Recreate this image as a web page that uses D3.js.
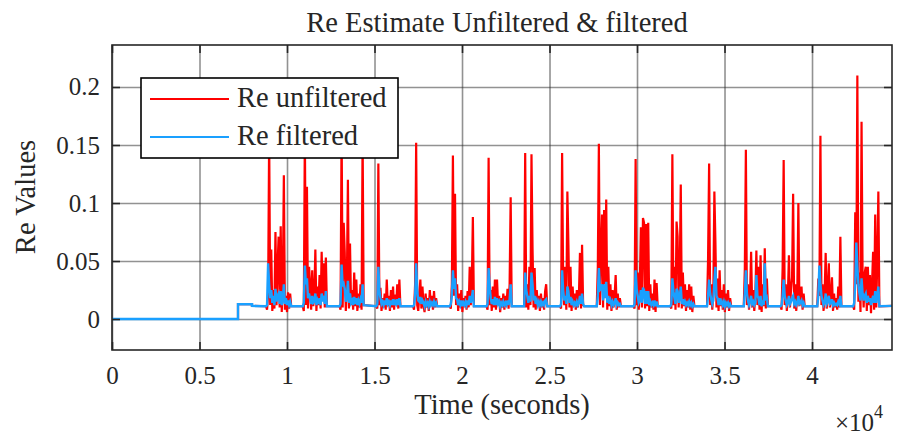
<!DOCTYPE html>
<html>
<head>
<meta charset="utf-8">
<script src="https://cdn.jsdelivr.net/npm/d3@7"></script>
<style>
  body { margin: 0; background: #fff; }
  svg { display: block; }
  text { font-family: "Liberation Serif", "Times New Roman", serif; fill: #262626; }
</style>
</head>
<body>
<svg id="chart" width="897" height="437"></svg>
<script>
// --- data (seconds / Re values) ---
const stepTimes  = [0, 7200, 7200, 8000, 8000];
const stepValues = [0, 0, 0.0128, 0.0128, 0.0113];
const endTime = 44570, endValue = 0.0113;
const sampleStep = 60;

const burstStart = [8800, 10900, 13000, 15100, 17200, 19300, 21400, 23550, 25600,
                    27700, 29800, 31900, 34000, 36100, 38200, 40300, 42350];

const redBursts = [
  [0.011, 0.008, 0.02, 0.158, 0.012, 0.06, 0.007, 0.025, 0.009, 0.075, 0.012, 0.045, 0.071, 0.01, 0.08, 0.006, 0.03, 0.124, 0.008, 0.02, 0.006, 0.023, 0.009, 0.022, 0.011],
  [0.011, 0.007, 0.16, 0.012, 0.114, 0.009, 0.045, 0.03, 0.008, 0.042, 0.011, 0.02, 0.06, 0.007, 0.028, 0.012, 0.038, 0.009, 0.058, 0.02, 0.048, 0.01, 0.053, 0.011],
  [0.011, 0.008, 0.165, 0.01, 0.083, 0.057, 0.007, 0.03, 0.12, 0.009, 0.065, 0.012, 0.025, 0.008, 0.04, 0.011, 0.034, 0.007, 0.022, 0.01, 0.03, 0.008, 0.158, 0.012],
  [0.011, 0.009, 0.134, 0.012, 0.027, 0.007, 0.018, 0.01, 0.022, 0.008, 0.034, 0.011, 0.02, 0.007, 0.025, 0.01, 0.028, 0.008, 0.021, 0.012, 0.03, 0.009, 0.034, 0.011],
  [0.011, 0.008, 0.03, 0.152, 0.012, 0.007, 0.02, 0.034, 0.009, 0.028, 0.012, 0.006, 0.022, 0.01, 0.018, 0.007, 0.025, 0.011, 0.02, 0.008, 0.024, 0.01, 0.018, 0.011],
  [0.011, 0.009, 0.03, 0.141, 0.02, 0.108, 0.012, 0.03, 0.007, 0.022, 0.01, 0.025, 0.006, 0.018, 0.011, 0.02, 0.008, 0.024, 0.01, 0.045, 0.012, 0.03, 0.088, 0.011],
  [0.011, 0.008, 0.139, 0.012, 0.025, 0.007, 0.028, 0.01, 0.034, 0.008, 0.034, 0.012, 0.02, 0.006, 0.018, 0.01, 0.022, 0.008, 0.02, 0.011, 0.026, 0.009, 0.03, 0.105, 0.011],
  [0.011, 0.143, 0.01, 0.03, 0.008, 0.045, 0.012, 0.142, 0.061, 0.01, 0.044, 0.008, 0.025, 0.011, 0.02, 0.007, 0.022, 0.01, 0.018, 0.008, 0.024, 0.03, 0.011],
  [0.011, 0.009, 0.143, 0.03, 0.012, 0.045, 0.008, 0.11, 0.064, 0.01, 0.045, 0.007, 0.028, 0.011, 0.022, 0.008, 0.025, 0.01, 0.02, 0.057, 0.009, 0.064, 0.012, 0.011],
  [0.011, 0.045, 0.151, 0.012, 0.058, 0.09, 0.01, 0.094, 0.03, 0.103, 0.008, 0.045, 0.011, 0.03, 0.007, 0.025, 0.01, 0.02, 0.038, 0.008, 0.022, 0.01, 0.018, 0.011],
  [0.011, 0.009, 0.138, 0.012, 0.04, 0.008, 0.03, 0.079, 0.01, 0.087, 0.083, 0.009, 0.082, 0.011, 0.083, 0.007, 0.03, 0.01, 0.022, 0.008, 0.034, 0.006, 0.031, 0.011],
  [0.011, 0.009, 0.142, 0.012, 0.045, 0.008, 0.084, 0.071, 0.01, 0.035, 0.116, 0.009, 0.04, 0.011, 0.03, 0.007, 0.025, 0.01, 0.03, 0.008, 0.028, 0.006, 0.02, 0.011],
  [0.011, 0.052, 0.134, 0.012, 0.03, 0.008, 0.022, 0.11, 0.066, 0.01, 0.035, 0.007, 0.042, 0.011, 0.025, 0.008, 0.03, 0.006, 0.022, 0.01, 0.025, 0.007, 0.018, 0.011],
  [0.011, 0.043, 0.146, 0.012, 0.03, 0.008, 0.022, 0.058, 0.01, 0.025, 0.007, 0.02, 0.059, 0.012, 0.045, 0.008, 0.055, 0.006, 0.03, 0.011, 0.061, 0.009, 0.035, 0.011],
  [0.011, 0.008, 0.044, 0.137, 0.012, 0.03, 0.007, 0.02, 0.055, 0.01, 0.025, 0.036, 0.108, 0.009, 0.03, 0.007, 0.025, 0.1, 0.011, 0.02, 0.028, 0.008, 0.022, 0.011],
  [0.011, 0.035, 0.02, 0.158, 0.012, 0.03, 0.007, 0.022, 0.057, 0.009, 0.025, 0.048, 0.01, 0.02, 0.036, 0.007, 0.022, 0.01, 0.018, 0.008, 0.028, 0.01, 0.071, 0.011],
  [0.011, 0.008, 0.092, 0.03, 0.21, 0.015, 0.04, 0.006, 0.17, 0.035, 0.01, 0.04, 0.045, 0.007, 0.045, 0.012, 0.038, 0.005, 0.03, 0.058, 0.008, 0.09, 0.01, 0.051, 0.11, 0.011]
];

const blueBursts = [
  [0.011, 0.012, 0.048, 0.03, 0.018, 0.025, 0.014, 0.02, 0.012, 0.026, 0.015, 0.02, 0.022, 0.013, 0.024, 0.012, 0.017, 0.03, 0.013, 0.018, 0.012, 0.016, 0.012, 0.015, 0.011],
  [0.011, 0.014, 0.046, 0.03, 0.035, 0.018, 0.022, 0.017, 0.013, 0.02, 0.014, 0.015, 0.022, 0.012, 0.016, 0.013, 0.018, 0.012, 0.022, 0.015, 0.02, 0.013, 0.024, 0.011],
  [0.011, 0.013, 0.047, 0.028, 0.03, 0.026, 0.015, 0.018, 0.033, 0.014, 0.022, 0.014, 0.016, 0.012, 0.019, 0.013, 0.018, 0.012, 0.016, 0.013, 0.017, 0.014, 0.03, 0.012],
  [0.011, 0.013, 0.045, 0.024, 0.018, 0.013, 0.015, 0.012, 0.016, 0.012, 0.018, 0.013, 0.015, 0.012, 0.016, 0.012, 0.017, 0.012, 0.015, 0.013, 0.017, 0.012, 0.018, 0.011],
  [0.011, 0.012, 0.02, 0.048, 0.025, 0.016, 0.015, 0.019, 0.013, 0.016, 0.014, 0.011, 0.015, 0.012, 0.014, 0.011, 0.015, 0.012, 0.014, 0.012, 0.015, 0.012, 0.014, 0.011],
  [0.011, 0.013, 0.02, 0.042, 0.026, 0.035, 0.018, 0.017, 0.012, 0.015, 0.012, 0.016, 0.011, 0.014, 0.012, 0.015, 0.012, 0.016, 0.012, 0.02, 0.014, 0.018, 0.025, 0.011],
  [0.011, 0.013, 0.044, 0.028, 0.018, 0.013, 0.017, 0.012, 0.019, 0.012, 0.018, 0.013, 0.015, 0.011, 0.014, 0.012, 0.015, 0.012, 0.014, 0.012, 0.016, 0.012, 0.017, 0.03, 0.011],
  [0.011, 0.04, 0.025, 0.02, 0.014, 0.02, 0.015, 0.04, 0.03, 0.016, 0.02, 0.013, 0.016, 0.012, 0.015, 0.012, 0.015, 0.012, 0.014, 0.012, 0.016, 0.017, 0.011],
  [0.011, 0.013, 0.042, 0.025, 0.016, 0.02, 0.013, 0.028, 0.024, 0.014, 0.019, 0.012, 0.015, 0.012, 0.014, 0.012, 0.015, 0.012, 0.014, 0.02, 0.013, 0.022, 0.013, 0.011],
  [0.011, 0.02, 0.044, 0.025, 0.026, 0.03, 0.016, 0.03, 0.018, 0.032, 0.014, 0.02, 0.013, 0.016, 0.012, 0.015, 0.012, 0.014, 0.018, 0.012, 0.014, 0.012, 0.013, 0.011],
  [0.011, 0.013, 0.042, 0.026, 0.02, 0.014, 0.016, 0.025, 0.014, 0.027, 0.025, 0.013, 0.024, 0.013, 0.024, 0.012, 0.015, 0.012, 0.014, 0.012, 0.016, 0.011, 0.015, 0.011],
  [0.011, 0.013, 0.035, 0.024, 0.018, 0.013, 0.026, 0.024, 0.014, 0.018, 0.028, 0.013, 0.017, 0.012, 0.015, 0.012, 0.014, 0.012, 0.015, 0.012, 0.014, 0.011, 0.013, 0.011],
  [0.011, 0.02, 0.034, 0.022, 0.017, 0.013, 0.016, 0.032, 0.045, 0.02, 0.018, 0.012, 0.018, 0.012, 0.015, 0.012, 0.015, 0.011, 0.014, 0.012, 0.014, 0.011, 0.013, 0.011],
  [0.011, 0.022, 0.042, 0.022, 0.016, 0.012, 0.015, 0.02, 0.013, 0.015, 0.012, 0.014, 0.038, 0.02, 0.018, 0.012, 0.02, 0.011, 0.016, 0.012, 0.048, 0.016, 0.018, 0.011],
  [0.011, 0.012, 0.02, 0.034, 0.02, 0.016, 0.012, 0.014, 0.02, 0.013, 0.015, 0.018, 0.02, 0.013, 0.015, 0.012, 0.014, 0.02, 0.013, 0.014, 0.016, 0.012, 0.014, 0.011],
  [0.011, 0.02, 0.046, 0.03, 0.02, 0.016, 0.012, 0.014, 0.022, 0.013, 0.015, 0.02, 0.013, 0.014, 0.017, 0.012, 0.014, 0.012, 0.013, 0.012, 0.015, 0.013, 0.02, 0.011],
  [0.011, 0.014, 0.03, 0.066, 0.045, 0.03, 0.022, 0.016, 0.035, 0.022, 0.016, 0.02, 0.022, 0.014, 0.02, 0.015, 0.018, 0.012, 0.016, 0.02, 0.014, 0.024, 0.014, 0.02, 0.028, 0.011]
];

const xTicks = [0, 5000, 10000, 15000, 20000, 25000, 30000, 35000, 40000];
const yTicks = [0, 0.05, 0.1, 0.15, 0.2];
const seriesNames = ['Re unfiltered', 'Re filtered'];
const seriesColors = ['#ff0000', '#1aa0ff'];

// --- series assembly ---
function buildSeries(bursts) {
  const pts = stepTimes.map((t, i) => [t, stepValues[i]]);
  bursts.forEach((vals, b) => {
    vals.forEach((v, i) => pts.push([burstStart[b] + i * sampleStep, v]));
  });
  pts.push([endTime, endValue]);
  return pts;
}
const redSeries = buildSeries(redBursts);
const blueSeries = buildSeries(blueBursts);

// --- layout ---
const L = 112, R = 892, T = 45, B = 350;
const svg = d3.select('#chart');
const x = d3.scaleLinear().domain([0, 44570]).range([L, R]);
const y = d3.scaleLinear().domain([-0.0267, 0.2362]).range([B, T]);

// grid
const gridStyle = g => {
  g.select('.domain').remove();
  g.selectAll('line').attr('stroke', '#262626').attr('stroke-opacity', 0.5).attr('stroke-width', 1.6);
};
svg.append('g')
  .attr('transform', `translate(0,${B})`)
  .call(d3.axisBottom(x).tickValues(xTicks).tickSize(-(B - T)).tickFormat(''))
  .call(gridStyle);
svg.append('g')
  .attr('transform', `translate(${L},0)`)
  .call(d3.axisLeft(y).tickValues(yTicks).tickSize(-(R - L)).tickFormat(''))
  .call(gridStyle);

// lines
const line = d3.line().x(d => x(d[0])).y(d => y(d[1]));
svg.append('clipPath').attr('id', 'plotclip')
  .append('rect').attr('x', L).attr('y', T).attr('width', R - L).attr('height', B - T);
svg.append('path').datum(redSeries)
  .attr('clip-path', 'url(#plotclip)')
  .attr('fill', 'none').attr('stroke', seriesColors[0]).attr('stroke-width', 2.2)
  .attr('d', line);
svg.append('path').datum(blueSeries)
  .attr('clip-path', 'url(#plotclip)')
  .attr('fill', 'none').attr('stroke', seriesColors[1]).attr('stroke-width', 2.4)
  .attr('d', line);

// axes (ticks inside, on all four sides)
const tickStyle = g => {
  g.select('.domain').remove();
  g.selectAll('line').attr('stroke', '#262626').attr('stroke-width', 1.6);
  g.selectAll('text').style('font-size', '25px').attr('fill', '#262626');
};
svg.append('g').attr('transform', `translate(0,${B})`)
  .call(d3.axisBottom(x).tickValues(xTicks).tickSize(-8).tickPadding(16).tickFormat(d => d / 1e4))
  .call(tickStyle);
svg.append('g').attr('transform', `translate(0,${T})`)
  .call(d3.axisTop(x).tickValues(xTicks).tickSize(-8).tickFormat(''))
  .call(tickStyle);
svg.append('g').attr('transform', `translate(${L},0)`)
  .call(d3.axisLeft(y).tickValues(yTicks).tickSize(-8).tickPadding(12).tickFormat(d3.format('~g')))
  .call(tickStyle);
svg.append('g').attr('transform', `translate(${R},0)`)
  .call(d3.axisRight(y).tickValues(yTicks).tickSize(-8).tickFormat(''))
  .call(tickStyle);

// frame
svg.append('rect').attr('x', L).attr('y', T).attr('width', R - L).attr('height', B - T)
  .attr('fill', 'none').attr('stroke', '#262626').attr('stroke-width', 1.6);

// title & labels
svg.append('text').attr('x', (L + R) / 2 - 5).attr('y', 32).attr('text-anchor', 'middle')
  .style('font-size', '28.5px').attr('fill', '#000').text('Re Estimate Unfiltered & filtered');
svg.append('text').attr('x', (L + R) / 2).attr('y', 414).attr('text-anchor', 'middle')
  .style('font-size', '28.5px').text('Time (seconds)');
svg.append('text').attr('transform', 'translate(35,197) rotate(-90)').attr('text-anchor', 'middle')
  .style('font-size', '28.5px').text('Re Values');
const expo = svg.append('text').attr('x', 835).attr('y', 431).style('font-size', '25px');
expo.append('tspan').text('\u00d710');
expo.append('tspan').attr('dy', -13).style('font-size', '18px').text('4');

// legend
const lg = svg.append('g');
lg.append('rect').attr('x', 141).attr('y', 78).attr('width', 257).attr('height', 80)
  .attr('fill', '#fff').attr('stroke', '#000').attr('stroke-width', 1.6);
seriesNames.forEach((name, i) => {
  const yy = 99 + i * 38;
  lg.append('line').attr('x1', 150).attr('x2', 229).attr('y1', yy).attr('y2', yy)
    .attr('stroke', seriesColors[i]).attr('stroke-width', 2.2);
  lg.append('text').attr('x', 237).attr('y', yy + 8).style('font-size', '28.5px')
    .attr('fill', '#000').text(name);
});
</script>
</body>
</html>
